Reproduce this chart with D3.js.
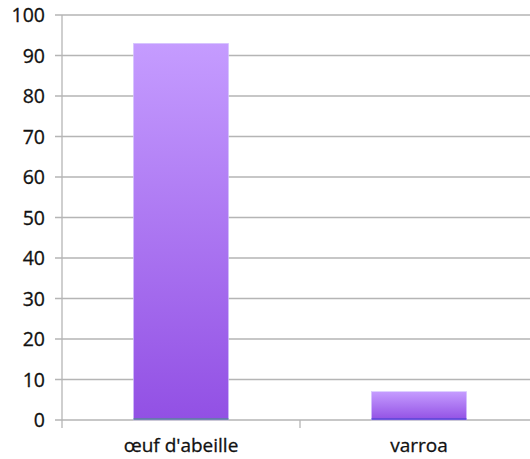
<!DOCTYPE html>
<html><head><meta charset="utf-8">
<script src="https://cdn.jsdelivr.net/npm/d3@7"></script>
<style>body{margin:0;background:#fff}svg{display:block}</style>
</head><body>
<script>
const categories = ["œuf d'abeille", "varroa"];
const values = [93, 7];
const yTicks = [0,10,20,30,40,50,60,70,80,90,100];

const W = 530, H = 459;
const FONT = "'Open Sans', 'Liberation Sans', Arial, sans-serif";
const svg = d3.select("body").append("svg").attr("width", W).attr("height", H);
const x0 = 62, x1 = 538, yTop = 15, yBot = 420;
const x = d3.scaleBand().domain(categories).range([x0, x1]).paddingInner(0.6).paddingOuter(0.3);
const y = d3.scaleLinear().domain([0, 100]).range([yBot, yTop]);

const defs = svg.append("defs");
const g1 = defs.append("linearGradient").attr("id","grad").attr("x1",0).attr("y1",0).attr("x2",0).attr("y2",1);
g1.append("stop").attr("offset","0%").attr("stop-color","#c59cff");
g1.append("stop").attr("offset","100%").attr("stop-color","#9250e4");

// gridlines
svg.append("g").selectAll("line").data(yTicks).join("line")
  .attr("x1", x0 - 7).attr("x2", W).attr("y1", d => y(d)).attr("y2", d => y(d))
  .attr("stroke", "#b5b5b5").attr("stroke-width", 1.3);
// y labels
svg.append("g").selectAll("text").data(yTicks).join("text")
  .attr("x", 45).attr("y", d => y(d)).attr("dy", "0.36em").attr("text-anchor","end")
  .attr("font-family", FONT).attr("font-size", 19.5).attr("fill","#111")
  .attr("stroke","#111").attr("stroke-width",0.3)
  .text(d => d);
// y axis line
svg.append("line").attr("x1", x0).attr("x2", x0).attr("y1", yTop).attr("y2", yBot + 8)
  .attr("stroke","#b5b5b5").attr("stroke-width",1.3);
// category ticks
svg.append("g").selectAll("line").data([x0 + x.step()]).join("line")
  .attr("x1", d => d).attr("x2", d => d).attr("y1", yBot).attr("y2", yBot + 8)
  .attr("stroke","#b5b5b5").attr("stroke-width",1.3);

// bars
const bars = svg.append("g").selectAll("g").data(values).join("g");
bars.append("rect")
  .attr("x", (d,i) => x(categories[i])).attr("width", x.bandwidth())
  .attr("y", d => y(d)).attr("height", d => yBot - y(d))
  .attr("fill","url(#grad)").attr("stroke","#d6c8ff").attr("stroke-width",0.6);
bars.append("line")
  .attr("x1", (d,i) => x(categories[i])).attr("x2", (d,i) => x(categories[i]) + x.bandwidth())
  .attr("y1", yBot - 1).attr("y2", yBot - 1)
  .attr("stroke", (d,i) => i === 1 ? "#3a3fd0" : "#3f9a7a").attr("stroke-width", 1.2);

// category labels
svg.append("g").selectAll("text").data(categories).join("text")
  .attr("x", d => x(d) + x.bandwidth()/2).attr("y", 452).attr("text-anchor","middle")
  .attr("font-family", FONT).attr("font-size", 19).attr("fill","#111")
  .attr("stroke","#111").attr("stroke-width",0.3)
  .text(d => d);
</script>
</body></html>
